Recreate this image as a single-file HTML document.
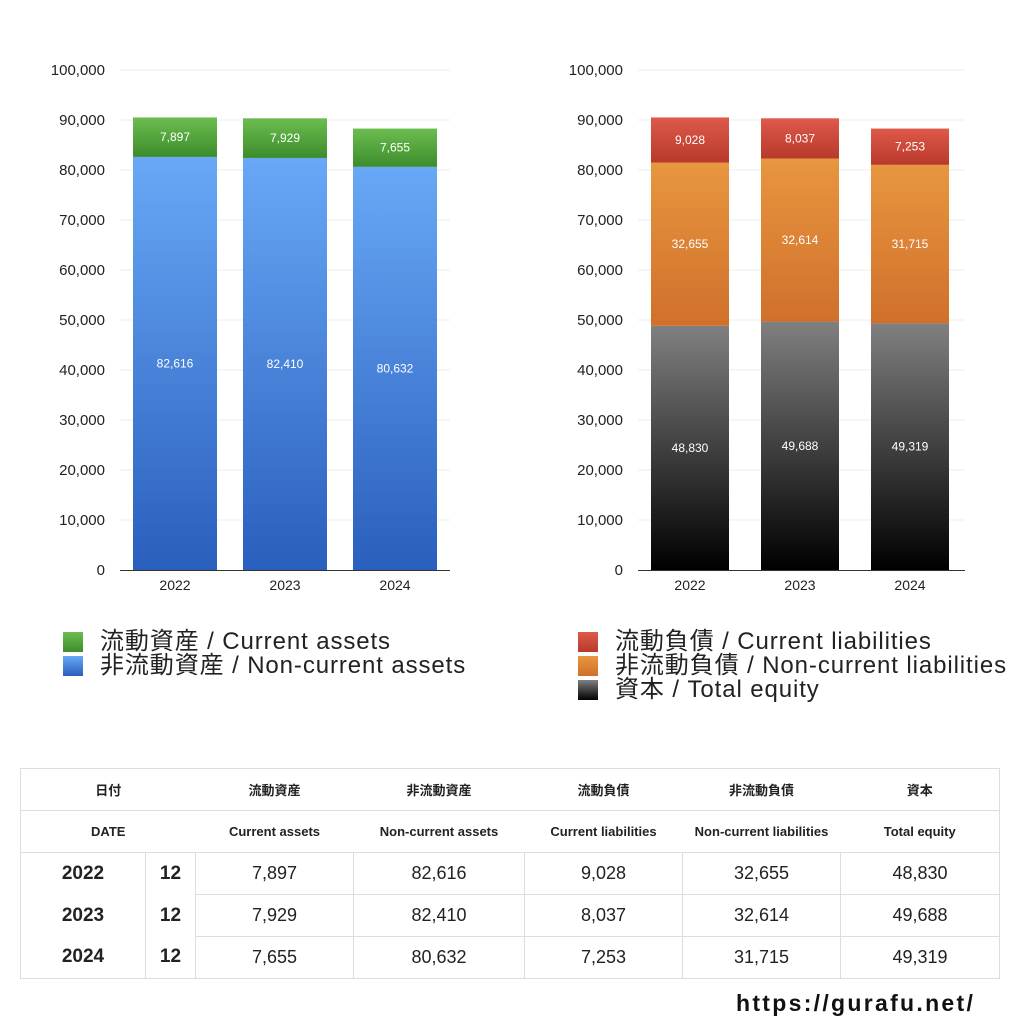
<!DOCTYPE html>
<html><head><meta charset="utf-8">
<style>
body{margin:0;width:1024px;height:1024px;background:#fff;font-family:"Liberation Sans","Noto Sans CJK JP",sans-serif;overflow:hidden;position:relative}
svg{position:absolute;left:0;top:0}
.lg{position:absolute;font-size:24px;letter-spacing:0.9px;color:#222;line-height:24px;white-space:nowrap}
.sq{display:inline-block;width:20px;height:20px;vertical-align:-3px;margin-right:17px}
table{position:absolute;left:20px;top:768px;border-collapse:collapse;width:980px;font-family:"Liberation Sans","Noto Sans CJK JP",sans-serif}
td{border:1px solid #ddd;text-align:center;color:#222;padding:0}
.h td{height:41px;font-size:13px;font-weight:bold;border-left:none;border-right:none}
.d td{height:41px;font-size:18px}
.yr{font-weight:bold;font-size:19px!important}
.url{position:absolute;left:736px;top:990px;font-size:23px;font-weight:bold;color:#111;letter-spacing:2.3px}
</style></head><body>
<svg id="chart" width="1024" height="760">
<defs>
<linearGradient id="gBlue" x1="0" y1="0" x2="0" y2="1"><stop offset="0" stop-color="#68a8f6"/><stop offset="1" stop-color="#2a5fbd"/></linearGradient>
<linearGradient id="gGreen" x1="0" y1="0" x2="0" y2="1"><stop offset="0" stop-color="#6cbd50"/><stop offset="1" stop-color="#3d8c2c"/></linearGradient>
<linearGradient id="gRed" x1="0" y1="0" x2="0" y2="1"><stop offset="0" stop-color="#de5a4b"/><stop offset="1" stop-color="#b8392a"/></linearGradient>
<linearGradient id="gOrange" x1="0" y1="0" x2="0" y2="1"><stop offset="0" stop-color="#e8963f"/><stop offset="1" stop-color="#d0702c"/></linearGradient>
<linearGradient id="gGray" x1="0" y1="0" x2="0" y2="1"><stop offset="0" stop-color="#808080"/><stop offset="1" stop-color="#000"/></linearGradient>
</defs>
</svg>
<div class="lg" style="left:63px;top:630px"><span class="sq" style="background:linear-gradient(#6cbd50,#3d8c2c)"></span>流動資産 / Current assets</div>
<div class="lg" style="left:63px;top:654px"><span class="sq" style="background:linear-gradient(#68a8f6,#2a5fbd)"></span>非流動資産 / Non-current assets</div>
<div class="lg" style="left:578px;top:630px"><span class="sq" style="background:linear-gradient(#de5a4b,#b8392a)"></span>流動負債 / Current liabilities</div>
<div class="lg" style="left:578px;top:654px"><span class="sq" style="background:linear-gradient(#e8963f,#d0702c)"></span>非流動負債 / Non-current liabilities</div>
<div class="lg" style="left:578px;top:678px"><span class="sq" style="background:linear-gradient(#808080,#000)"></span>資本 / Total equity</div>

<table>
<colgroup><col style="width:125px"><col style="width:50px"><col style="width:158px"><col style="width:171px"><col style="width:158px"><col style="width:158px"><col></colgroup>
<tr class="h"><td colspan="2" style="border-left:1px solid #ddd">日付</td><td>流動資産</td><td>非流動資産</td><td>流動負債</td><td>非流動負債</td><td style="border-right:1px solid #ddd">資本</td></tr>
<tr class="h"><td colspan="2" style="border-left:1px solid #ddd">DATE</td><td>Current assets</td><td>Non-current assets</td><td>Current liabilities</td><td>Non-current liabilities</td><td style="border-right:1px solid #ddd">Total equity</td></tr>
<tr class="d"><td class="yr" style="border-bottom:none">2022</td><td class="yr" style="border-bottom:none">12</td><td>7,897</td><td>82,616</td><td>9,028</td><td>32,655</td><td>48,830</td></tr>
<tr class="d"><td class="yr" style="border-top:none;border-bottom:none">2023</td><td class="yr" style="border-top:none;border-bottom:none">12</td><td>7,929</td><td>82,410</td><td>8,037</td><td>32,614</td><td>49,688</td></tr>
<tr class="d"><td class="yr" style="border-top:none">2024</td><td class="yr" style="border-top:none">12</td><td>7,655</td><td>80,632</td><td>7,253</td><td>31,715</td><td>49,319</td></tr>
</table>
<div class="url">https://gurafu.net/</div>

<script>
const years = ["2022","2023","2024"];
const currentAssets = [7897,7929,7655];
const nonCurrentAssets = [82616,82410,80632];
const currentLiabilities = [9028,8037,7253];
const nonCurrentLiabilities = [32655,32614,31715];
const totalEquity = [48830,49688,49319];
const yTicks = [0,10000,20000,30000,40000,50000,60000,70000,80000,90000,100000];

const NS="http://www.w3.org/2000/svg";
const svg=document.getElementById('chart');
function mk(tag,attrs,parent){const e=document.createElementNS(NS,tag);for(const k in attrs)e.setAttribute(k,attrs[k]);(parent||svg).appendChild(e);return e;}
const fmt=v=>v.toLocaleString('en-US');
const yScale=v=>570-v*500/100000;

function drawChart(name,x0,x1,firstBar,barW,series){
  const g=mk('g',{});
  
  
  yTicks.forEach(t=>{
    const y=yScale(t);
    if(t>0){const l=mk('line',{x1:x0,x2:x1,y1:y,y2:y,stroke:'#ececec','stroke-width':1},g);
      
      }
    const tx=mk('text',{x:x0-15,y:y+5,'text-anchor':'end','font-size':15,fill:'#222'},g);
    tx.textContent=fmt(t);
    
    
  });
  years.forEach((yr,i)=>{
    const bx=firstBar+i*110;
    let base=0;
    series.forEach(s=>{
      const v=s.vals[i];
      const yt=yScale(base+v), yb=yScale(base);
      const r=mk('rect',{x:bx,y:yt,width:barW,height:yb-yt,fill:s.fill},g);
      
      
      const t=mk('text',{x:bx+barW/2,y:(yt+yb)/2+4,'text-anchor':'middle','font-size':12,fill:'#fff'},g);
      t.textContent=fmt(v);
      
      
      base+=v;
    });
    const xl=mk('text',{x:bx+barW/2,y:590,'text-anchor':'middle','font-size':14,fill:'#222'},g);
    xl.textContent=yr;
    
    
  });
  const ax=mk('line',{x1:x0,x2:x1,y1:570.5,y2:570.5,stroke:'#333','stroke-width':1},g);
  
  
}
drawChart('assets-chart',120,450,133,84,[
  {name:'non-current-assets',vals:nonCurrentAssets,fill:'url(#gBlue)'},
  {name:'current-assets',vals:currentAssets,fill:'url(#gGreen)'}]);
drawChart('liabilities-chart',638,965,651,78,[
  {name:'total-equity',vals:totalEquity,fill:'url(#gGray)'},
  {name:'non-current-liabilities',vals:nonCurrentLiabilities,fill:'url(#gOrange)'},
  {name:'current-liabilities',vals:currentLiabilities,fill:'url(#gRed)'}]);
</script>
</body></html>
